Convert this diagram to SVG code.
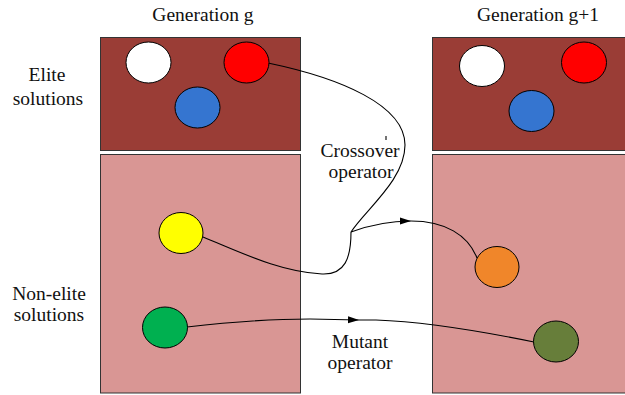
<svg xmlns="http://www.w3.org/2000/svg" width="625" height="395" viewBox="0 0 625 395">
<defs>
<style>
.elite{fill:#9A3D36;stroke:#333;stroke-width:1}
.non{fill:#D99694;stroke:#333;stroke-width:1}
.c{stroke:#000;stroke-width:1}
.t{font-family:"Liberation Serif","Times New Roman",serif;font-size:19.5px;fill:#111;text-anchor:middle}
.ln{fill:none;stroke:#000;stroke-width:1.1}
</style>
<marker id="ah" markerWidth="12" markerHeight="8" refX="11" refY="4" orient="auto" markerUnits="userSpaceOnUse">
<path d="M0,0.5 L11,4 L0,7.5 Z" fill="#000"/>
</marker>
</defs>
<rect width="625" height="395" fill="#fff"/>
<g id="gen-g">
<rect class="elite" x="100.5" y="37.5" width="200" height="113"/>
<rect class="non" x="100.5" y="154.5" width="200" height="238.5"/>
</g>
<g id="gen-g1">
<rect class="elite" x="432.5" y="37.5" width="200" height="113"/>
<rect class="non" x="432.5" y="154.5" width="200" height="238.5"/>
</g>
<g id="labels">
<text class="t" x="203" y="21">Generation g</text>
<text class="t" x="538" y="21">Generation g+1</text>
<text class="t" x="47" y="81">Elite</text>
<text class="t" x="48" y="105">solutions</text>
<text class="t" x="49" y="300">Non-elite</text>
<text class="t" x="49" y="321">solutions</text>
<text class="t" x="360" y="157">Crossover</text>
<text class="t" x="361" y="178">operator</text>
<text class="t" x="360" y="348">Mutant</text>
<text class="t" x="360" y="369">operator</text>
</g>
<g id="connectors">
<path class="ln" d="M268,63 C340,78 405,105 405,145 C405,180 365,210 351,232"/>
<path class="ln" d="M203,237 C240,252 280,272 322,274 C345,275 351,258 351,232"/>
<path class="ln" d="M351,232 C370,225 390,221 411,221" marker-end="url(#ah)"/>
<path class="ln" d="M411,221 C445,221 468,235 477,258"/>
<path class="ln" d="M187,327 C230,322 270,319 310,319 L359,320" marker-end="url(#ah)"/>
<path class="ln" d="M359,320 L376,320 C430,322 490,333 534,342"/>
<line class="ln" x1="386" y1="136" x2="386" y2="140" stroke-width="0.8"/>
</g>
<g id="sol-g-white"><ellipse class="c" cx="148.5" cy="62.5" rx="22.5" ry="20.5" fill="#fff"/></g>
<g id="sol-g-red"><ellipse class="c" cx="246.5" cy="62.5" rx="22.5" ry="20.5" fill="#FF0000"/></g>
<g id="sol-g-blue"><ellipse class="c" cx="197.5" cy="107.5" rx="22.5" ry="20.5" fill="#3575D0"/></g>
<g id="sol-g-yellow"><ellipse class="c" cx="181" cy="233" rx="22" ry="20.5" fill="#FFFF00"/></g>
<g id="sol-g-green"><ellipse class="c" cx="165" cy="327.5" rx="22.5" ry="20.5" fill="#00B050"/></g>
<g id="sol-g1-white"><ellipse class="c" cx="482" cy="66" rx="22.5" ry="20.5" fill="#fff"/></g>
<g id="sol-g1-red"><ellipse class="c" cx="584" cy="62.5" rx="22.5" ry="20.5" fill="#FF0000"/></g>
<g id="sol-g1-blue"><ellipse class="c" cx="531.5" cy="111" rx="22.5" ry="20.5" fill="#3575D0"/></g>
<g id="sol-g1-orange"><ellipse class="c" cx="497" cy="267" rx="22" ry="20.5" fill="#F0862A"/></g>
<g id="sol-g1-olive"><ellipse class="c" cx="556" cy="341.5" rx="22.5" ry="20.5" fill="#677E3A"/></g>
</svg>
